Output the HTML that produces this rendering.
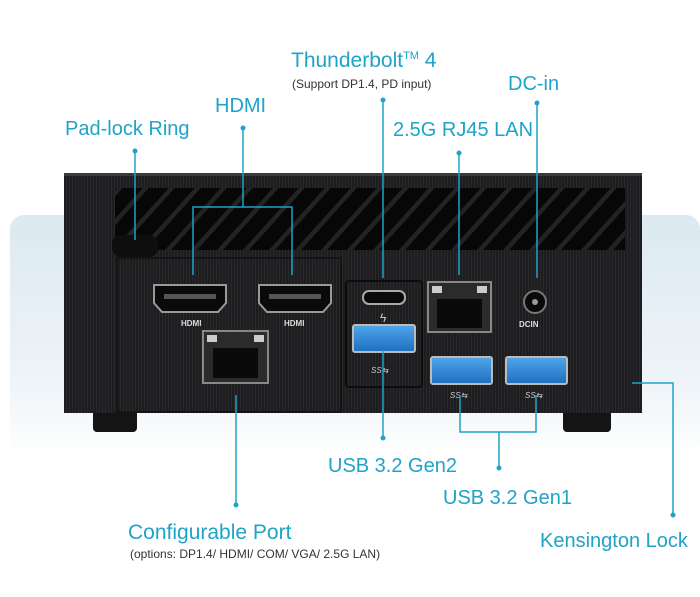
<!DOCTYPE html>
<html><head><meta charset="utf-8"><style>
html,body{margin:0;padding:0;background:#fff;width:700px;height:597px;overflow:hidden}
svg{display:block}
text{font-family:"Liberation Sans Narrow","Liberation Sans",sans-serif;fill:#1fa3c9}
</style></head><body>
<svg width="700" height="597" viewBox="0 0 700 597" xmlns="http://www.w3.org/2000/svg">
<defs>
<linearGradient id="bg" x1="0" y1="0" x2="0" y2="1">
<stop offset="0" stop-color="#dce9f1"/><stop offset="0.7" stop-color="#eef4f8"/><stop offset="1" stop-color="#fff"/></linearGradient>
<pattern id="rib" width="3" height="10" patternUnits="userSpaceOnUse"><rect width="3" height="10" fill="#1d1d1f"/><rect width="1" height="10" fill="#29292b"/></pattern>
<pattern id="fin" width="26" height="70" patternUnits="userSpaceOnUse" patternTransform="skewX(-42)"><rect width="26" height="70" fill="#070708"/><rect width="6" height="70" fill="#232325"/></pattern>
<linearGradient id="blue" x1="0" y1="0" x2="0" y2="1"><stop offset="0" stop-color="#4ea6e8"/><stop offset="1" stop-color="#1f6fc0"/></linearGradient>
</defs>
<rect x="10" y="215" width="690" height="240" rx="14" fill="url(#bg)"/>
<rect x="93" y="405" width="44" height="27" rx="4" fill="#141414"/>
<rect x="563" y="405" width="48" height="27" rx="4" fill="#141414"/>
<rect x="64" y="173" width="578" height="240" fill="url(#rib)"/>
<rect x="64" y="173" width="578" height="3" fill="#3a3a3c"/>
<rect x="115" y="188" width="510" height="62" fill="url(#fin)"/>
<rect x="112" y="235" width="46" height="22" rx="9" fill="#0e0e0f"/>
<rect x="117" y="258" width="224" height="154" fill="none" stroke="#111" stroke-width="1.5"/>
<rect x="346" y="281" width="76" height="106" rx="3" fill="none" stroke="#0c0c0c" stroke-width="2"/>
<g fill="#0a0a0a" stroke="#9a9a9a" stroke-width="2">
<path d="M154 285h72v18l-8 9h-56l-8-9z"/>
<path d="M259 285h72v18l-8 9h-56l-8-9z"/>
</g>
<rect x="164" y="294" width="52" height="5" fill="#555"/>
<rect x="269" y="294" width="52" height="5" fill="#555"/>
<g font-family="Liberation Sans" font-weight="bold" font-size="8">
<text x="181" y="326" style="fill:#ddd">HDMI</text>
<text x="284" y="326" style="fill:#ddd">HDMI</text>
<text x="519" y="327" style="fill:#ddd">DCIN</text>
</g>
<rect x="203" y="331" width="65" height="52" fill="#2b2b2b" stroke="#888" stroke-width="2"/>
<rect x="213" y="348" width="45" height="30" fill="#0a0a0a"/>
<rect x="207" y="335" width="10" height="7" fill="#ccc"/><rect x="254" y="335" width="10" height="7" fill="#ccc"/>
<rect x="428" y="282" width="63" height="50" fill="#2b2b2b" stroke="#888" stroke-width="2"/>
<rect x="437" y="299" width="45" height="29" fill="#0a0a0a"/>
<rect x="432" y="286" width="10" height="7" fill="#ccc"/><rect x="477" y="286" width="10" height="7" fill="#ccc"/>
<rect x="363" y="291" width="42" height="13" rx="6" fill="#0a0a0a" stroke="#aaa" stroke-width="2"/>
<text x="380" y="322" font-size="12" style="fill:#ccc">ϟ</text>
<g stroke="#bbb" stroke-width="2">
<rect x="353" y="325" width="62" height="27" rx="2" fill="url(#blue)"/>
<rect x="431" y="357" width="61" height="27" rx="2" fill="url(#blue)"/>
<rect x="506" y="357" width="61" height="27" rx="2" fill="url(#blue)"/>
</g>
<g font-size="8" font-style="italic" font-family="Liberation Sans"><text x="371" y="373" style="fill:#ccc">SS⇆</text><text x="450" y="398" style="fill:#ccc">SS⇆</text><text x="525" y="398" style="fill:#ccc">SS⇆</text></g>
<circle cx="535" cy="302" r="11" fill="#0a0a0a" stroke="#777" stroke-width="2"/><circle cx="535" cy="302" r="3" fill="#999"/>
<g stroke="#1fa3c9" stroke-width="1.5" fill="none">
<path d="M135 151V240"/>
<path d="M243 128V207M193 275V207H292V275"/>
<path d="M383 100V278"/>
<path d="M459 153V275"/>
<path d="M537 103V278"/>
<path d="M383 350V438"/>
<path d="M460 395V432H536V395M499 432V468"/>
<path d="M236 395V505"/>
<path d="M632 383H673V515"/>
</g>
<g fill="#1fa3c9">
<circle cx="135" cy="151" r="2.5"/><circle cx="243" cy="128" r="2.5"/><circle cx="383" cy="100" r="2.5"/>
<circle cx="459" cy="153" r="2.5"/><circle cx="537" cy="103" r="2.5"/><circle cx="383" cy="438" r="2.5"/>
<circle cx="499" cy="468" r="2.5"/><circle cx="236" cy="505" r="2.5"/><circle cx="673" cy="515" r="2.5"/>
</g>
<text x="65" y="135" font-size="20">Pad-lock Ring</text>
<text x="215" y="112" font-size="20">HDMI</text>
<text x="291" y="67" font-size="21">Thunderbolt<tspan font-size="11" dy="-8">TM</tspan><tspan dy="8"> 4</tspan></text>
<text x="292" y="88" font-size="12" style="fill:#333">(Support DP1.4, PD input)</text>
<text x="508" y="90" font-size="20">DC-in</text>
<text x="393" y="136" font-size="20">2.5G RJ45 LAN</text>
<text x="328" y="472" font-size="20">USB 3.2 Gen2</text>
<text x="443" y="504" font-size="20">USB 3.2 Gen1</text>
<text x="128" y="539" font-size="21">Configurable Port</text>
<text x="130" y="558" font-size="12" style="fill:#333">(options: DP1.4/ HDMI/ COM/ VGA/ 2.5G LAN)</text>
<text x="540" y="547" font-size="20">Kensington Lock</text>
</svg>
</body></html>
